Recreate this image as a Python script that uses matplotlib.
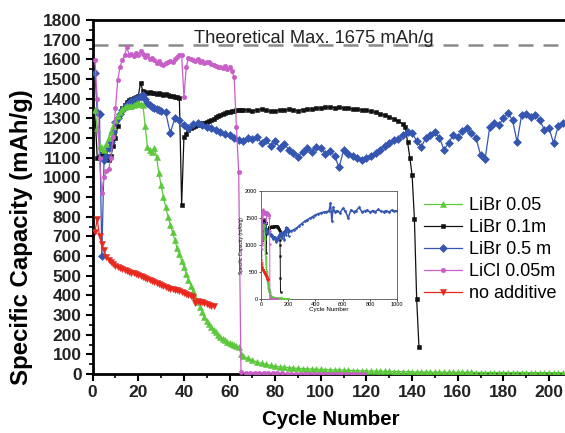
import matplotlib
matplotlib.use("Agg")
import matplotlib.pyplot as plt

plt.rcParams['font.family'] = ['Liberation Sans', 'DejaVu Sans']

# LiBr 0.05 (green) - every cycle to 65, then every 2 cycles
green_cyc = list(range(1, 66)) + list(range(66, 208, 2))
green_cap = [1340, 1250, 1160, 1150, 1140, 1170, 1200, 1230, 1260, 1290,
             1310, 1330, 1345, 1355, 1360, 1365, 1360, 1370, 1375, 1380,
             1375, 1370, 1260, 1155, 1140, 1130, 1150, 1105, 1020, 960,
             900, 850, 800, 760, 720, 680, 640, 610, 575, 545,
             510, 480, 450, 420, 390, 365, 340, 315, 290, 270,
             255, 240, 225, 212, 200, 190, 180, 172, 165, 158,
             152, 146, 141, 137, 100,
             90, 80, 70, 62, 55, 49, 44, 40, 37, 35,
             33, 31, 29, 28, 27, 26, 25, 24, 23, 22,
             21, 21, 20, 19, 18, 18, 17, 16, 16, 15,
             15, 14, 14, 13, 13, 12, 12, 12, 11, 11,
             11, 10, 10, 10, 10, 9, 9, 9, 9, 9,
             9, 8, 8, 8, 8, 8, 8, 8, 8, 8,
             8, 8, 7, 7, 7, 7, 7, 7, 7, 7,
             7]

# LiBr 0.1m (black)
black_cyc = list(range(1, 66)) + list(range(66, 136, 2)) + list(range(136, 144))
black_cap = [1330, 1100, 1110, 1120, 1128, 1100, 1088, 1110, 1160, 1200,
             1260, 1320, 1350, 1370, 1385, 1395, 1400, 1405, 1410, 1415,
             1480, 1440, 1435, 1430, 1432, 1428, 1430, 1425, 1428, 1425,
             1420, 1422, 1418, 1415, 1412, 1410, 1408, 1405, 860, 1205,
             1220, 1240, 1250, 1255, 1262, 1268, 1272, 1276, 1278, 1281,
             1286, 1292, 1298, 1305, 1312, 1318, 1322, 1326, 1330, 1334,
             1336, 1338, 1340, 1342, 1342,
             1340, 1344, 1338, 1342, 1345, 1340, 1336, 1338, 1342, 1340,
             1345, 1342, 1338, 1344, 1346, 1348, 1350, 1352, 1355, 1357,
             1354, 1356, 1352, 1350, 1347, 1345, 1342, 1340, 1335, 1330,
             1322, 1315, 1305, 1298, 1285,
             1270, 1256, 1180, 1100, 1010, 790, 381, 137]

# LiBr 0.5 m (blue)
blue_cyc = list(range(1, 31)) + list(range(32, 208, 2))
blue_cap = [1530, 1330, 1320, 600, 1090, 1110, 1150, 1180, 1230, 1280,
            1300, 1320, 1340, 1355, 1370, 1380, 1390, 1395, 1400, 1405,
            1415, 1418, 1400, 1380, 1370, 1355, 1350, 1345, 1340, 1335,
            1330, 1225, 1300, 1290, 1265, 1250, 1270, 1275, 1265, 1255,
            1250, 1240, 1230, 1220, 1215, 1200, 1190, 1185, 1200, 1195,
            1205, 1175, 1190, 1160, 1185, 1150, 1170, 1140, 1125, 1105,
            1130, 1150, 1130, 1155, 1150, 1120, 1135, 1110, 1050, 1140,
            1120, 1110, 1100, 1090, 1100, 1110, 1125, 1140, 1160, 1175,
            1190, 1195, 1215, 1230, 1225, 1185, 1155, 1200, 1215, 1230,
            1200, 1140, 1175, 1215, 1205, 1235, 1250, 1225, 1200, 1113,
            1093, 1256, 1276, 1265, 1300, 1327, 1290, 1180, 1317, 1320,
            1305, 1317, 1290, 1240, 1250, 1174, 1260, 1276]

# LiBr 0.5 m (blue) - long-term cycles, inset only
blue_long_cyc = [220, 240, 260, 280, 300, 320, 340, 360, 380, 400,
                 420, 440, 460, 480, 500, 510, 520, 530, 540, 560,
                 580, 600, 620, 640, 660, 680, 700, 720, 740, 760,
                 780, 800, 820, 840, 860, 880, 900, 920, 940, 960,
                 980, 1000]
blue_long_cap = [1260, 1285, 1310, 1360, 1400, 1440, 1470, 1500, 1530, 1560,
                 1580, 1600, 1610, 1615, 1640, 1780, 1450, 1700, 1620, 1640,
                 1600, 1680, 1630, 1500, 1650, 1620, 1640, 1700, 1620, 1630,
                 1650, 1610, 1640, 1620, 1660, 1630, 1620, 1640, 1610, 1650,
                 1630, 1640]

# LiCl 0.05m (magenta)
licl_cyc = list(range(1, 66)) + list(range(67, 121, 2))
licl_cap = [1596, 1400, 1100, 920, 1000, 1030, 1040, 1100, 1205, 1350,
            1495, 1560, 1596, 1620, 1662, 1620, 1625, 1615, 1630, 1620,
            1640, 1625, 1610, 1620, 1600, 1606, 1595, 1580, 1590, 1575,
            1571, 1580, 1585, 1590, 1586, 1600, 1610, 1620, 1622, 1408,
            1560, 1606, 1600, 1595, 1590, 1600, 1586, 1590, 1580, 1585,
            1586, 1575, 1570, 1565, 1560, 1561, 1555, 1565, 1550, 1561,
            1540, 1510, 1256, 1027, 10,
            6, 5, 5, 5, 4, 4, 4, 4, 4, 3,
            3, 3, 3, 3, 3, 3, 3, 3, 3, 3,
            3, 3, 3, 3, 3, 3, 3]

# no additive (red)
red_cyc = list(range(1, 54))
red_cap = [720, 790, 700, 660, 630, 595, 580, 570, 560, 550,
           545, 540, 535, 530, 525, 520, 515, 512, 508, 503,
           500, 495, 490, 485, 478, 475, 470, 465, 460, 455,
           450, 442, 440, 435, 430, 428, 425, 420, 417, 412,
           408, 403, 398, 391, 361, 370, 365, 366, 362, 355,
           350, 345, 348]

theo_max = 1675

series = [
    ('LiBr 0.05', green_cyc, green_cap, '#5cc83c', '^', 4.0),
    ('LiBr 0.1m', black_cyc, black_cap, '#111111', 's', 2.4),
    ('LiBr 0.5 m', blue_cyc, blue_cap, '#3556b0', 'D', 4.0),
    ('LiCl 0.05m', licl_cyc, licl_cap, '#c85ec8', 'o', 3.2),
    ('no additive', red_cyc, red_cap, '#e8281e', 'v', 4.0),
]
zorders = [4, 2, 3, 5, 6]

fig = plt.figure(figsize=(5.65, 4.33), dpi=100)
ax = fig.add_axes([0.164, 0.136, 0.836, 0.818])

for (name, x, y, c, m, ms), z in zip(series, zorders):
    ax.plot(x, y, color=c, marker=m, markersize=ms, linewidth=0.9,
            markeredgewidth=0.4, label=name, zorder=z)

ax.axhline(theo_max, color='#8a8a8a', linestyle=(0, (6, 4)), linewidth=1.8, zorder=1)
ax.text(96.8, 1683, 'Theoretical Max. 1675 mAh/g', fontsize=13.2,
        color='#222222', ha='center', va='baseline')

ax.set_xlim(0, 207)
ax.set_ylim(0, 1800)
ax.set_xticks(range(0, 201, 20))
ax.set_xticks(range(10, 207, 20), minor=True)
ax.set_yticks(range(0, 1801, 100))
ax.set_yticks(range(50, 1800, 100), minor=True)
ax.tick_params(which='major', direction='out', length=5, width=1.5,
               labelsize=12.5, pad=3)
ax.tick_params(which='minor', direction='out', length=3, width=1.2)
for lab in ax.get_xticklabels() + ax.get_yticklabels():
    lab.set_fontweight('bold')
    lab.set_color('#222222')

for side in ['left', 'bottom', 'top']:
    ax.spines[side].set_linewidth(2)
ax.spines['right'].set_visible(False)

ax.set_xlabel('Cycle Number', fontsize=14.8, fontweight='bold')
ax.xaxis.set_label_coords(0.504, -0.102)
ax.set_ylabel('Specific Capacity (mAh/g)', fontsize=17.3, fontweight='bold')
ax.yaxis.set_label_coords(-0.126, 0.387)

leg = fig.legend(loc='upper left', bbox_to_anchor=(0.735, 0.566), frameon=False,
                 fontsize=13, handlelength=2.1, handletextpad=0.4,
                 labelspacing=0.28, borderpad=0)

# inset with long-term cycling
ins = fig.add_axes([0.462, 0.3095, 0.241, 0.249])
for (name, x, y, c, m, ms), z in zip(series, zorders):
    ins.plot(x, y, color=c, marker=m, markersize=1.4, linewidth=0.7,
             markeredgewidth=0.2, zorder=z)
ins.plot(blue_long_cyc, blue_long_cap, color='#3556b0', marker='D', markersize=1.6,
         linewidth=1.1, markeredgewidth=0.2, zorder=3)
ins.set_xlim(0, 1000)
ins.set_ylim(0, 2000)
ins.set_xticks(range(0, 1001, 200))
ins.set_yticks(range(0, 2001, 500))
ins.tick_params(labelsize=4, length=1.5, width=0.5, pad=1)
for sp in ins.spines.values():
    sp.set_linewidth(0.6)
    sp.set_color('#555555')
ins.set_xlabel('Cycle Number', fontsize=4.5, labelpad=0)
ins.set_ylabel('Specific Capacity (mAh/g)', fontsize=3.5, labelpad=1)

fig.savefig('out.png', dpi=100)
